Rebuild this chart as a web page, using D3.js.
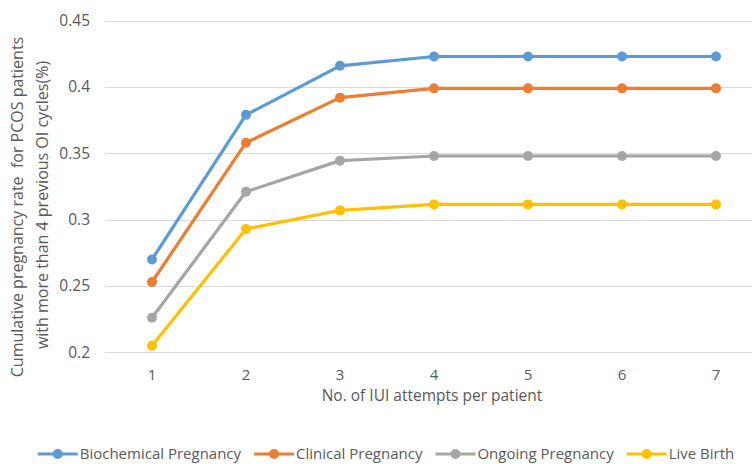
<!DOCTYPE html>
<html>
<head>
<meta charset="utf-8">
<script src="https://cdn.jsdelivr.net/npm/d3@7"></script>
<style>
  html, body { margin: 0; padding: 0; background: #fff; }
  svg { display: block; font-family: "Open Sans", sans-serif; }
</style>
</head>
<body>
<svg id="chart" width="752" height="464"></svg>
<script>
// ---- data ----
const categories = ["1", "2", "3", "4", "5", "6", "7"];
const seriesNames = ["Biochemical Pregnancy", "Clinical Pregnancy", "Ongoing Pregnancy", "Live Birth"];
const biochemical = [0.270, 0.379, 0.416, 0.423, 0.423, 0.423, 0.423];
const clinical    = [0.253, 0.358, 0.392, 0.399, 0.399, 0.399, 0.399];
const ongoing     = [0.226, 0.321, 0.3445, 0.348, 0.348, 0.348, 0.348];
const liveBirth   = [0.205, 0.293, 0.307, 0.3115, 0.3115, 0.3115, 0.3115];
const yTicks = [0.2, 0.25, 0.3, 0.35, 0.4, 0.45];
const yTickLabels = ["0.2", "0.25", "0.3", "0.35", "0.4", "0.45"];
const colors = ["#5B9BD5", "#ED7D31", "#A5A5A5", "#FFC000"];
const xTitle = "No. of IUI attempts per patient";
const yTitle = ["Cumulative pregnancy rate  for PCOS patients", "with more than 4 previous OI cycles(%)"];

const seriesValues = [biochemical, clinical, ongoing, liveBirth];
const series = seriesNames.map((name, i) => ({
  name, color: colors[i],
  values: categories.map((c, j) => ({ c, v: seriesValues[i][j] }))
}));

// ---- layout ----
const svg = d3.select("#chart");
const textColor = "#595959";
const gridColor = "#D9D9D9";

const x = d3.scaleBand().domain(categories).range([105, 763]).padding(0);
const xc = c => x(c) + x.bandwidth() / 2;
const y = d3.scaleLinear().domain([0.2, 0.45]).range([352.3, 20.7]);

// gridlines
svg.append("g")
  .selectAll("line")
  .data(yTicks)
  .join("line")
  .attr("x1", 105).attr("x2", 752)
  .attr("y1", d => Math.round(y(d)) + 0.5)
  .attr("y2", d => Math.round(y(d)) + 0.5)
  .attr("stroke", gridColor).attr("stroke-width", 1);

// y axis labels
const yAxis = d3.axisLeft(y).tickValues(yTicks)
  .tickFormat((d, i) => yTickLabels[i]).tickSize(0).tickPadding(0);
const gy = svg.append("g").attr("transform", "translate(90,0)").call(yAxis);
gy.select(".domain").remove();
gy.selectAll("text")
  .attr("fill", textColor)
  .style("font-family", "'Open Sans', sans-serif")
  .style("font-size", "15.5px");

// x axis labels
const xAxis = d3.axisBottom(x).tickSize(0).tickPadding(0);
const gx = svg.append("g").attr("transform", "translate(0,352)").call(xAxis);
gx.select(".domain").remove();
gx.selectAll("text")
  .attr("fill", textColor)
  .attr("dy", null)
  .attr("y", 28)
  .style("font-family", "'Open Sans', sans-serif")
  .style("font-size", "15px");

// lines
const line = d3.line().x(d => xc(d.c)).y(d => y(d.v));
const sg = svg.append("g").selectAll("g").data(series).join("g");
sg.append("path")
  .attr("d", d => line(d.values))
  .attr("fill", "none")
  .attr("stroke", d => d.color)
  .attr("stroke-width", 3.2)
  .attr("stroke-linejoin", "round")
  .attr("stroke-linecap", "round");
sg.selectAll("circle")
  .data(d => d.values.map(v => ({ ...v, color: d.color })))
  .join("circle")
  .attr("cx", d => xc(d.c))
  .attr("cy", d => y(d.v))
  .attr("r", 5)
  .attr("fill", d => d.color);

// x title
svg.append("text")
  .attr("x", 432).attr("y", 400.5)
  .attr("text-anchor", "middle")
  .attr("fill", textColor)
  .style("font-size", "15.5px")
  .text(xTitle);

// y title
const yt = [{ x: 22.7, cy: 207 }, { x: 47.7, cy: 205 }];
yTitle.forEach((t, i) => {
  svg.append("text")
    .attr("transform", `translate(${yt[i].x},${yt[i].cy}) rotate(-90)`)
    .attr("text-anchor", "middle")
    .attr("fill", textColor)
    .style("font-size", "16px")
    .style("white-space", "pre")
    .attr("xml:space", "preserve")
    .text(t);
});

// legend
const legendY = 454;
const lg = svg.append("g");
const items = lg.selectAll("g").data(series).join("g");
items.append("line")
  .attr("x1", 0).attr("x2", 40)
  .attr("y1", legendY).attr("y2", legendY)
  .attr("stroke", d => d.color).attr("stroke-width", 3.2);
items.append("circle")
  .attr("cx", 20).attr("cy", legendY).attr("r", 5)
  .attr("fill", d => d.color);
items.append("text")
  .attr("x", 42).attr("y", legendY + 5.3)
  .attr("fill", textColor)
  .style("font-size", "15px")
  .text(d => d.name);
let cursor = 0;
const widths = [];
items.each(function () {
  const w = 42 + d3.select(this).select("text").node().getComputedTextLength();
  widths.push(w);
});
const gap = 13;
const total = d3.sum(widths) + gap * (widths.length - 1);
cursor = 386 - total / 2;
items.attr("transform", (d, i) => {
  const tx = cursor;
  cursor += widths[i] + gap;
  return `translate(${tx},0)`;
});
</script>
</body>
</html>
